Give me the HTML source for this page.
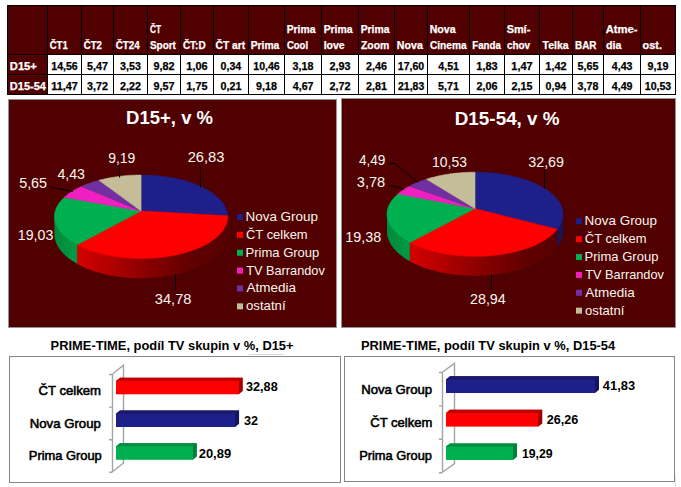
<!DOCTYPE html>
<html><head><meta charset="utf-8"><style>
html,body{margin:0;padding:0;background:#fff;width:681px;height:487px;overflow:hidden}
svg{display:block;font-family:"Liberation Sans", sans-serif}
</style></head><body>
<svg width="681" height="487" viewBox="0 0 681 487">
<rect x="7" y="5" width="668" height="89" fill="#fff"/>
<rect x="7" y="5" width="668" height="49" fill="#500000"/>
<rect x="7" y="54" width="40" height="40" fill="#500000"/>
<path d="M7.5 5V95 M47.5 5V95 M81.5 5V95 M113.5 5V95 M147.5 5V95 M180.5 5V95 M213.5 5V95 M248.5 5V95 M284.5 5V95 M321.5 5V95 M358.5 5V95 M394.5 5V95 M427.5 5V95 M469.5 5V95 M504.5 5V95 M539.5 5V95 M572.5 5V95 M603.5 5V95 M640.5 5V95 M675.5 5V95 M7 5.5H676 M7 54.5H676 M7 74.5H676 M7 94.5H676" stroke="#000" stroke-width="1" fill="none"/>
<rect x="8.5" y="99.5" width="328" height="228" fill="#500000" stroke="#8f9898" stroke-width="1"/>
<rect x="341.5" y="98.5" width="334" height="229" fill="#500000" stroke="#8f9898" stroke-width="1"/>
<defs><linearGradient id="sl1" gradientUnits="userSpaceOnUse" x1="77" y1="0" x2="230" y2="0"><stop offset="0" stop-color="#d60000"/><stop offset="0.45" stop-color="#8a0000"/><stop offset="0.75" stop-color="#600000"/><stop offset="1" stop-color="#560000"/></linearGradient><linearGradient id="sl2" gradientUnits="userSpaceOnUse" x1="54" y1="0" x2="77" y2="0"><stop offset="0" stop-color="#008a3c"/><stop offset="1" stop-color="#009a44"/></linearGradient><linearGradient id="sl0"><stop offset="0" stop-color="#15155a"/></linearGradient><linearGradient id="sr1" gradientUnits="userSpaceOnUse" x1="410" y1="0" x2="565" y2="0"><stop offset="0" stop-color="#d60000"/><stop offset="0.45" stop-color="#8a0000"/><stop offset="0.75" stop-color="#600000"/><stop offset="1" stop-color="#560000"/></linearGradient><linearGradient id="sr2" gradientUnits="userSpaceOnUse" x1="387" y1="0" x2="410" y2="0"><stop offset="0" stop-color="#008a3c"/><stop offset="1" stop-color="#009a44"/></linearGradient><linearGradient id="sr0"><stop offset="0" stop-color="#15155a"/></linearGradient></defs>
<path d="M227.68 216.75 L227.65 217.87 L227.55 218.98 L227.40 220.10 L227.18 221.22 L226.90 222.35 L226.55 223.47 L226.14 224.59 L225.66 225.71 L225.11 226.82 L224.50 227.94 L223.83 229.05 L223.09 230.15 L222.28 231.24 L221.40 232.33 L220.46 233.41 L219.46 234.48 L218.39 235.54 L217.25 236.59 L216.04 237.63 L214.77 238.65 L213.44 239.65 L212.05 240.65 L210.59 241.62 L209.06 242.58 L207.48 243.51 L205.84 244.43 L204.13 245.33 L202.37 246.20 L200.55 247.06 L198.68 247.88 L196.75 248.69 L194.77 249.46 L192.73 250.21 L190.65 250.94 L188.52 251.63 L186.34 252.30 L184.12 252.93 L181.85 253.53 L179.55 254.10 L177.20 254.64 L174.82 255.15 L172.41 255.62 L169.97 256.06 L167.49 256.46 L164.99 256.82 L162.46 257.15 L159.92 257.45 L157.35 257.70 L154.77 257.92 L152.17 258.10 L149.56 258.25 L146.94 258.35 L144.32 258.42 L141.69 258.45 L139.06 258.44 L136.43 258.39 L133.81 258.30 L131.20 258.18 L128.59 258.01 L126.00 257.81 L123.43 257.58 L120.87 257.30 L118.33 256.99 L115.82 256.64 L113.33 256.26 L110.87 255.84 L108.44 255.38 L106.05 254.89 L103.69 254.37 L101.36 253.81 L99.08 253.23 L96.83 252.61 L94.63 251.96 L92.48 251.28 L90.37 250.57 L88.31 249.83 L86.31 249.07 L84.35 248.28 L82.45 247.46 L80.60 246.62 L78.81 245.76 L77.08 244.87 L77.08 263.81 L78.81 264.75 L80.60 265.66 L82.45 266.55 L84.35 267.42 L86.31 268.25 L88.31 269.06 L90.37 269.84 L92.48 270.59 L94.63 271.31 L96.83 271.99 L99.08 272.65 L101.36 273.27 L103.69 273.86 L106.05 274.41 L108.44 274.93 L110.87 275.41 L113.33 275.85 L115.82 276.26 L118.33 276.63 L120.87 276.96 L123.43 277.25 L126.00 277.50 L128.59 277.71 L131.20 277.88 L133.81 278.02 L136.43 278.11 L139.06 278.16 L141.69 278.17 L144.32 278.14 L146.94 278.07 L149.56 277.96 L152.17 277.80 L154.77 277.61 L157.35 277.38 L159.92 277.11 L162.46 276.80 L164.99 276.45 L167.49 276.07 L169.97 275.64 L172.41 275.18 L174.82 274.68 L177.20 274.15 L179.55 273.58 L181.85 272.97 L184.12 272.34 L186.34 271.66 L188.52 270.96 L190.65 270.23 L192.73 269.46 L194.77 268.67 L196.75 267.85 L198.68 267.00 L200.55 266.12 L202.37 265.22 L204.13 264.30 L205.84 263.35 L207.48 262.38 L209.06 261.39 L210.59 260.38 L212.05 259.35 L213.44 258.30 L214.77 257.23 L216.04 256.15 L217.25 255.06 L218.39 253.95 L219.46 252.83 L220.46 251.70 L221.40 250.56 L222.28 249.40 L223.09 248.25 L223.83 247.08 L224.50 245.91 L225.11 244.73 L225.66 243.55 L226.14 242.37 L226.55 241.18 L226.90 240.00 L227.18 238.81 L227.40 237.63 L227.55 236.44 L227.65 235.26 L227.68 234.08Z" fill="url(#sl1)"/><path d="M77.08 244.87 L75.38 243.95 L73.74 243.00 L72.16 242.03 L70.65 241.05 L69.20 240.04 L67.82 239.03 L66.50 237.99 L65.25 236.94 L64.07 235.88 L62.96 234.80 L61.91 233.71 L60.93 232.62 L60.03 231.51 L59.19 230.39 L58.42 229.27 L57.72 228.14 L57.08 227.01 L56.52 225.88 L56.02 224.74 L55.59 223.59 L55.23 222.45 L54.94 221.31 L54.71 220.17 L54.55 219.03 L54.45 217.89 L54.42 216.75 L54.42 234.08 L54.45 235.28 L54.55 236.49 L54.71 237.69 L54.94 238.90 L55.23 240.11 L55.59 241.32 L56.02 242.52 L56.52 243.73 L57.08 244.93 L57.72 246.13 L58.42 247.32 L59.19 248.51 L60.03 249.68 L60.93 250.86 L61.91 252.02 L62.96 253.17 L64.07 254.30 L65.25 255.43 L66.50 256.54 L67.82 257.63 L69.20 258.71 L70.65 259.77 L72.16 260.81 L73.74 261.83 L75.38 262.84 L77.08 263.81Z" fill="url(#sl2)"/><path d="M141.05 211.00 L141.05 175.06 L143.04 175.07 L145.02 175.10 L147.01 175.16 L148.99 175.24 L150.97 175.33 L152.94 175.45 L154.91 175.60 L156.88 175.76 L158.83 175.95 L160.78 176.16 L162.72 176.39 L164.65 176.64 L166.57 176.91 L168.47 177.20 L170.37 177.52 L172.25 177.86 L174.12 178.22 L175.97 178.60 L177.80 179.00 L179.62 179.42 L181.42 179.86 L183.21 180.33 L184.97 180.81 L186.71 181.32 L188.43 181.85 L190.12 182.39 L191.79 182.96 L193.44 183.55 L195.06 184.16 L196.66 184.78 L198.22 185.43 L199.76 186.10 L201.27 186.78 L202.75 187.49 L204.19 188.21 L205.61 188.95 L206.99 189.71 L208.33 190.49 L209.64 191.29 L210.91 192.10 L212.14 192.93 L213.34 193.78 L214.49 194.64 L215.60 195.52 L216.67 196.42 L217.70 197.33 L218.68 198.25 L219.62 199.20 L220.51 200.15 L221.36 201.12 L222.15 202.10 L222.90 203.10 L223.60 204.10 L224.24 205.12 L224.83 206.15 L225.37 207.19 L225.86 208.24 L226.29 209.31 L226.66 210.37 L226.98 211.45 L227.23 212.54 L227.44 213.63 L227.58 214.73 L227.66 215.83Z" fill="#1f1f8a" stroke="#1f1f8a" stroke-width="0.6" stroke-linejoin="round"/><path d="M141.05 211.00 L227.66 215.83 L227.68 216.94 L227.64 218.05 L227.53 219.17 L227.37 220.28 L227.14 221.40 L226.85 222.52 L226.49 223.64 L226.07 224.76 L225.58 225.88 L225.03 226.99 L224.41 228.10 L223.73 229.21 L222.98 230.30 L222.16 231.40 L221.28 232.48 L220.33 233.56 L219.32 234.63 L218.24 235.68 L217.09 236.73 L215.88 237.76 L214.61 238.78 L213.27 239.78 L211.87 240.77 L210.41 241.74 L208.88 242.69 L207.29 243.62 L205.65 244.54 L203.94 245.43 L202.17 246.30 L200.35 247.15 L198.48 247.97 L196.55 248.77 L194.56 249.54 L192.53 250.29 L190.44 251.01 L188.31 251.70 L186.13 252.36 L183.91 252.99 L181.65 253.59 L179.34 254.15 L177.00 254.69 L174.62 255.19 L172.21 255.66 L169.77 256.09 L167.30 256.49 L164.80 256.85 L162.28 257.18 L159.73 257.47 L157.17 257.72 L154.59 257.94 L152.00 258.11 L149.39 258.25 L146.78 258.36 L144.16 258.42 L141.54 258.45 L138.92 258.44 L136.29 258.38 L133.68 258.30 L131.07 258.17 L128.47 258.01 L125.89 257.80 L123.32 257.57 L120.77 257.29 L118.24 256.98 L115.73 256.63 L113.25 256.24 L110.79 255.82 L108.37 255.37 L105.98 254.88 L103.62 254.36 L101.30 253.80 L99.03 253.21 L96.79 252.59 L94.59 251.95 L92.44 251.27 L90.34 250.56 L88.29 249.82 L86.29 249.06 L84.34 248.27 L82.44 247.46 L80.60 246.62 L78.81 245.75 L77.08 244.87Z" fill="#ff0000" stroke="#ff0000" stroke-width="0.6" stroke-linejoin="round"/><path d="M141.05 211.00 L77.08 244.87 L75.40 243.96 L73.77 243.02 L72.21 242.07 L70.71 241.09 L69.28 240.10 L67.91 239.09 L66.60 238.07 L65.36 237.04 L64.19 235.98 L63.08 234.92 L62.04 233.85 L61.06 232.77 L60.16 231.67 L59.32 230.57 L58.54 229.46 L57.84 228.35 L57.20 227.23 L56.63 226.11 L56.12 224.98 L55.69 223.85 L55.31 222.72 L55.01 221.59 L54.76 220.46 L54.59 219.34 L54.47 218.21 L54.42 217.09 L54.44 215.97 L54.51 214.85 L54.65 213.75 L54.84 212.64 L55.10 211.55 L55.41 210.46 L55.79 209.38 L56.22 208.31 L56.70 207.25 L57.24 206.20 L57.84 205.16 L58.49 204.13 L59.19 203.12 L59.94 202.11 L60.74 201.12 L61.59 200.14 L62.49 199.18 L63.44 198.23 L64.43 197.30Z" fill="#00b050" stroke="#00b050" stroke-width="0.6" stroke-linejoin="round"/><path d="M141.05 211.00 L64.43 197.30 L65.50 196.35 L66.61 195.43 L67.77 194.52 L68.98 193.62 L70.22 192.75 L71.51 191.89 L72.84 191.05 L74.21 190.23 L75.61 189.43 L77.05 188.65 L78.53 187.89 L80.05 187.15 L81.60 186.43Z" fill="#f020c0" stroke="#f020c0" stroke-width="0.6" stroke-linejoin="round"/><path d="M141.05 211.00 L81.60 186.43 L83.21 185.72 L84.85 185.02 L86.53 184.35 L88.23 183.71 L89.97 183.08 L91.73 182.48 L93.52 181.90 L95.33 181.34 L97.17 180.80 L99.03 180.29Z" fill="#7030a0" stroke="#7030a0" stroke-width="0.6" stroke-linejoin="round"/><path d="M141.05 211.00 L99.03 180.29 L100.81 179.83 L102.61 179.39 L104.42 178.97 L106.25 178.57 L108.10 178.19 L109.96 177.84 L111.83 177.50 L113.72 177.19 L115.62 176.90 L117.53 176.63 L119.46 176.38 L121.39 176.15 L123.33 175.94 L125.28 175.76 L127.24 175.59 L129.20 175.45 L131.16 175.33 L133.14 175.23 L135.11 175.16 L137.09 175.10 L139.07 175.07 L141.05 175.06Z" fill="#c4bd97" stroke="#c4bd97" stroke-width="0.6" stroke-linejoin="round"/>
<path d="M563.01 214.28 L562.97 215.43 L562.87 216.58 L562.71 217.74 L562.47 218.90 L562.17 220.06 L561.80 221.21 L561.36 222.37 L560.85 223.53 L560.27 224.68 L559.62 225.83 L558.91 226.97 L558.12 228.11 L557.26 229.23 L557.26 247.17 L558.12 245.98 L558.91 244.78 L559.62 243.57 L560.27 242.36 L560.85 241.15 L561.36 239.93 L561.80 238.71 L562.17 237.49 L562.47 236.26 L562.71 235.04 L562.87 233.82 L562.97 232.60 L563.01 231.39Z" fill="url(#sr0)"/><path d="M557.26 229.23 L556.35 230.33 L555.37 231.41 L554.33 232.49 L553.23 233.55 L552.05 234.60 L550.81 235.64 L549.51 236.67 L548.14 237.68 L546.70 238.67 L545.20 239.65 L543.64 240.60 L542.02 241.54 L540.34 242.46 L538.60 243.36 L536.80 244.23 L534.94 245.08 L533.02 245.91 L531.05 246.71 L529.03 247.48 L526.96 248.23 L524.83 248.95 L522.66 249.64 L520.44 250.30 L518.18 250.93 L515.88 251.53 L513.53 252.10 L511.15 252.63 L508.73 253.13 L506.28 253.60 L503.79 254.03 L501.28 254.43 L498.74 254.79 L496.18 255.11 L493.59 255.40 L490.99 255.65 L488.37 255.86 L485.74 256.03 L483.09 256.17 L480.44 256.27 L477.78 256.32 L475.12 256.35 L472.46 256.33 L469.80 256.27 L467.15 256.18 L464.50 256.05 L461.87 255.87 L459.24 255.67 L456.64 255.42 L454.05 255.14 L451.49 254.82 L448.95 254.46 L446.43 254.07 L443.94 253.64 L441.49 253.18 L439.07 252.68 L436.68 252.15 L434.33 251.58 L432.02 250.99 L429.76 250.36 L427.54 249.70 L425.36 249.01 L423.23 248.30 L421.15 247.55 L419.13 246.78 L417.15 245.98 L415.23 245.16 L413.37 244.31 L411.56 243.44 L409.81 242.54 L409.81 261.20 L411.56 262.15 L413.37 263.07 L415.23 263.96 L417.15 264.83 L419.13 265.68 L421.15 266.49 L423.23 267.28 L425.36 268.03 L427.54 268.76 L429.76 269.45 L432.02 270.12 L434.33 270.75 L436.68 271.34 L439.07 271.90 L441.49 272.42 L443.94 272.91 L446.43 273.36 L448.95 273.78 L451.49 274.15 L454.05 274.49 L456.64 274.79 L459.24 275.05 L461.87 275.27 L464.50 275.45 L467.15 275.59 L469.80 275.69 L472.46 275.75 L475.12 275.77 L477.78 275.75 L480.44 275.68 L483.09 275.58 L485.74 275.44 L488.37 275.25 L490.99 275.03 L493.59 274.77 L496.18 274.46 L498.74 274.12 L501.28 273.74 L503.79 273.33 L506.28 272.87 L508.73 272.38 L511.15 271.85 L513.53 271.29 L515.88 270.69 L518.18 270.06 L520.44 269.39 L522.66 268.70 L524.83 267.97 L526.96 267.21 L529.03 266.42 L531.05 265.60 L533.02 264.76 L534.94 263.89 L536.80 262.99 L538.60 262.07 L540.34 261.12 L542.02 260.15 L543.64 259.16 L545.20 258.15 L546.70 257.12 L548.14 256.07 L549.51 255.01 L550.81 253.93 L552.05 252.83 L553.23 251.72 L554.33 250.60 L555.37 249.47 L556.35 248.32 L557.26 247.17Z" fill="url(#sr1)"/><path d="M409.81 242.54 L408.10 241.61 L406.45 240.66 L404.86 239.69 L403.34 238.70 L401.88 237.69 L400.49 236.66 L399.16 235.62 L397.90 234.57 L396.71 233.50 L395.59 232.42 L394.54 231.32 L393.56 230.22 L392.64 229.11 L391.80 227.99 L391.02 226.86 L390.32 225.73 L389.68 224.59 L389.11 223.45 L388.61 222.30 L388.18 221.15 L387.81 220.01 L387.52 218.86 L387.29 217.71 L387.12 216.56 L387.03 215.42 L386.99 214.28 L386.99 231.39 L387.03 232.59 L387.12 233.80 L387.29 235.01 L387.52 236.22 L387.81 237.43 L388.18 238.64 L388.61 239.85 L389.11 241.06 L389.68 242.27 L390.32 243.47 L391.02 244.66 L391.80 245.85 L392.64 247.03 L393.56 248.21 L394.54 249.37 L395.59 250.52 L396.71 251.66 L397.90 252.79 L399.16 253.91 L400.49 255.00 L401.88 256.08 L403.34 257.15 L404.86 258.19 L406.45 259.22 L408.10 260.22 L409.81 261.20Z" fill="url(#sr2)"/><path d="M475.00 208.60 L475.00 172.21 L477.03 172.22 L479.05 172.26 L481.08 172.31 L483.10 172.39 L485.12 172.49 L487.13 172.61 L489.14 172.76 L491.14 172.93 L493.13 173.11 L495.12 173.33 L497.09 173.56 L499.06 173.82 L501.02 174.09 L502.96 174.39 L504.89 174.71 L506.81 175.06 L508.71 175.42 L510.60 175.81 L512.47 176.22 L514.32 176.64 L516.15 177.10 L517.97 177.57 L519.76 178.06 L521.53 178.57 L523.28 179.11 L525.01 179.66 L526.71 180.24 L528.39 180.84 L530.04 181.45 L531.66 182.09 L533.25 182.75 L534.82 183.42 L536.35 184.12 L537.85 184.83 L539.32 185.57 L540.75 186.32 L542.15 187.09 L543.52 187.88 L544.85 188.69 L546.14 189.51 L547.39 190.35 L548.60 191.21 L549.76 192.09 L550.89 192.98 L551.98 193.89 L553.01 194.81 L554.01 195.75 L554.96 196.70 L555.86 197.67 L556.71 198.65 L557.51 199.65 L558.26 200.65 L558.96 201.67 L559.61 202.70 L560.20 203.75 L560.74 204.80 L561.23 205.86 L561.65 206.93 L562.02 208.01 L562.34 209.10 L562.59 210.20 L562.79 211.30 L562.92 212.41 L562.99 213.53 L563.00 214.65 L562.95 215.77 L562.83 216.90 L562.66 218.03 L562.41 219.16 L562.10 220.29 L561.73 221.42 L561.29 222.54 L560.78 223.67 L560.21 224.79 L559.57 225.91 L558.87 227.03 L558.10 228.13 L557.26 229.23Z" fill="#1f1f8a" stroke="#1f1f8a" stroke-width="0.6" stroke-linejoin="round"/><path d="M475.00 208.60 L557.26 229.23 L556.35 230.33 L555.37 231.41 L554.33 232.49 L553.23 233.55 L552.05 234.60 L550.81 235.64 L549.51 236.67 L548.14 237.68 L546.70 238.67 L545.20 239.65 L543.64 240.60 L542.02 241.54 L540.34 242.46 L538.60 243.36 L536.80 244.23 L534.94 245.08 L533.02 245.91 L531.05 246.71 L529.03 247.48 L526.96 248.23 L524.83 248.95 L522.66 249.64 L520.44 250.30 L518.18 250.93 L515.88 251.53 L513.53 252.10 L511.15 252.63 L508.73 253.13 L506.28 253.60 L503.79 254.03 L501.28 254.43 L498.74 254.79 L496.18 255.11 L493.59 255.40 L490.99 255.65 L488.37 255.86 L485.74 256.03 L483.09 256.17 L480.44 256.27 L477.78 256.32 L475.12 256.35 L472.46 256.33 L469.80 256.27 L467.15 256.18 L464.50 256.05 L461.87 255.87 L459.24 255.67 L456.64 255.42 L454.05 255.14 L451.49 254.82 L448.95 254.46 L446.43 254.07 L443.94 253.64 L441.49 253.18 L439.07 252.68 L436.68 252.15 L434.33 251.58 L432.02 250.99 L429.76 250.36 L427.54 249.70 L425.36 249.01 L423.23 248.30 L421.15 247.55 L419.13 246.78 L417.15 245.98 L415.23 245.16 L413.37 244.31 L411.56 243.44 L409.81 242.54Z" fill="#ff0000" stroke="#ff0000" stroke-width="0.6" stroke-linejoin="round"/><path d="M475.00 208.60 L409.81 242.54 L408.12 241.62 L406.48 240.68 L404.91 239.72 L403.40 238.74 L401.96 237.74 L400.58 236.73 L399.26 235.70 L398.01 234.66 L396.83 233.60 L395.71 232.54 L394.67 231.46 L393.68 230.37 L392.77 229.27 L391.93 228.16 L391.15 227.05 L390.44 225.93 L389.79 224.80 L389.22 223.68 L388.71 222.54 L388.27 221.41 L387.89 220.27 L387.58 219.14 L387.34 218.00 L387.16 216.87 L387.05 215.74 L387.00 214.61 L387.01 213.48 L387.09 212.36 L387.22 211.25 L387.42 210.14 L387.68 209.03 L388.00 207.94 L388.38 206.85 L388.81 205.78 L389.30 204.71 L389.85 203.65 L390.45 202.60 L391.11 201.57 L391.82 200.55 L392.58 199.53 L393.39 198.54 L394.25 197.55 L395.16 196.58 L396.12 195.63 L397.13 194.68 L398.18 193.76Z" fill="#00b050" stroke="#00b050" stroke-width="0.6" stroke-linejoin="round"/><path d="M475.00 208.60 L398.18 193.76 L399.27 192.85 L400.40 191.96 L401.58 191.08 L402.80 190.23 L404.06 189.38 L405.36 188.56 L406.69 187.75 L408.07 186.97 L409.48 186.20Z" fill="#f020c0" stroke="#f020c0" stroke-width="0.6" stroke-linejoin="round"/><path d="M475.00 208.60 L409.48 186.20 L411.02 185.39 L412.60 184.61 L414.22 183.86 L415.88 183.12 L417.57 182.40 L419.29 181.71 L421.05 181.04 L422.84 180.40 L424.65 179.78 L426.50 179.18Z" fill="#7030a0" stroke="#7030a0" stroke-width="0.6" stroke-linejoin="round"/><path d="M475.00 208.60 L426.50 179.18 L428.25 178.64 L430.03 178.12 L431.83 177.62 L433.65 177.14 L435.50 176.69 L437.36 176.26 L439.23 175.84 L441.13 175.45 L443.04 175.08 L444.96 174.74 L446.90 174.41 L448.86 174.11 L450.82 173.83 L452.80 173.57 L454.78 173.34 L456.78 173.12 L458.78 172.93 L460.79 172.76 L462.81 172.62 L464.83 172.49 L466.86 172.39 L468.89 172.31 L470.93 172.26 L472.96 172.22 L475.00 172.21Z" fill="#c4bd97" stroke="#c4bd97" stroke-width="0.6" stroke-linejoin="round"/>
<path d="M200.5 166V187 M119.5 165V177.5 M50 187.3L72.7 191.4 M175.5 274V290.6 M544.5 169.6V188.7 M388.7 163L394.9 163.6L417.5 182.1 M388.7 185.6L394.9 186.3L403.7 189.3 M491.5 274.2V289.3" stroke="#000" stroke-width="1" fill="none"/>
<rect x="237" y="214.00" width="6" height="6" fill="#1f1f8a"/>
<rect x="237" y="231.87" width="6" height="6" fill="#ff0000"/>
<rect x="237" y="249.74" width="6" height="6" fill="#00b050"/>
<rect x="237" y="267.61" width="6" height="6" fill="#f020c0"/>
<rect x="237" y="285.48" width="6" height="6" fill="#7030a0"/>
<rect x="237" y="303.35" width="6" height="6" fill="#c4bd97"/>
<rect x="576" y="218.30" width="6" height="6" fill="#1f1f8a"/>
<rect x="576" y="236.17" width="6" height="6" fill="#ff0000"/>
<rect x="576" y="254.04" width="6" height="6" fill="#00b050"/>
<rect x="576" y="271.91" width="6" height="6" fill="#f020c0"/>
<rect x="576" y="289.78" width="6" height="6" fill="#7030a0"/>
<rect x="576" y="307.65" width="6" height="6" fill="#c4bd97"/>
<rect x="9.5" y="356.5" width="331" height="126" fill="#fff" stroke="#868686" stroke-width="1"/>
<rect x="344.5" y="356.5" width="330" height="125" fill="#fff" stroke="#868686" stroke-width="1"/>
<rect x="249" y="354" width="35" height="1" fill="#dadada"/><rect x="675" y="475" width="1" height="12" fill="#e4e4e4"/>
<path d="M112.5 374V471.8 M112.5 374L123.5 365.2V463.0L112.5 471.8 M109 374.5H112.5 M109 407.1H112.5 M109 439.7H112.5 M109 472.3H112.5" stroke="#a4a4a4" stroke-width="1.4" fill="none"/>
<path d="M442.5 372V472.2 M442.5 372L454.5 363.4V463.59999999999997L442.5 472.2 M439 372.5H442.5 M439 405.9H442.5 M439 439.3H442.5 M439 472.7H442.5" stroke="#a4a4a4" stroke-width="1.4" fill="none"/>
<path d="M116 381.59999999999997V380.9L120 377.7H242.8V391.1L238.8 394.3H238.10000000000002V381.59999999999997Z" fill="#a00000"/><path d="M116 381.59999999999997V380.9L120 377.7H242.8L238.8 380.9V381.59999999999997Z" fill="#c00000"/><rect x="116" y="380.9" width="122.80000000000001" height="13.400000000000034" fill="#ff0000"/>
<path d="M116 414.4V413.7L120 410.5H239.1V423.8L235.1 427.0H234.4V414.4Z" fill="#141460"/><path d="M116 414.4V413.7L120 410.5H239.1L235.1 413.7V414.4Z" fill="#19196c"/><rect x="116" y="413.7" width="119.1" height="13.300000000000011" fill="#1f1f8a"/>
<path d="M116 447.09999999999997V446.4L120 443.2H196.9V456.6L192.9 459.8H192.20000000000002V447.09999999999997Z" fill="#00803a"/><path d="M116 447.09999999999997V446.4L120 443.2H196.9L192.9 446.4V447.09999999999997Z" fill="#009040"/><rect x="116" y="446.4" width="76.9" height="13.400000000000034" fill="#00b050"/>
<path d="M446 380.2V379.5L450 376.3H599V389.8L595 393.0H594.3V380.2Z" fill="#141460"/><path d="M446 380.2V379.5L450 376.3H599L595 379.5V380.2Z" fill="#19196c"/><rect x="446" y="379.5" width="149" height="13.5" fill="#1f1f8a"/>
<path d="M446 413.7V413.0L450 409.8H542.3V423.40000000000003L538.3 426.6H537.5999999999999V413.7Z" fill="#a00000"/><path d="M446 413.7V413.0L450 409.8H542.3L538.3 413.0V413.7Z" fill="#c00000"/><rect x="446" y="413.0" width="92.29999999999995" height="13.600000000000023" fill="#ff0000"/>
<path d="M446 447.3V446.6L450 443.40000000000003H517V456.8L513 460.0H512.3V447.3Z" fill="#00803a"/><path d="M446 447.3V446.6L450 443.40000000000003H517L513 446.6V447.3Z" fill="#009040"/><rect x="446" y="446.6" width="67" height="13.399999999999977" fill="#00b050"/>
<g id="texts" font-family="&quot;Liberation Sans&quot;, sans-serif"><text id="t0" x="49.70" y="48.70" font-size="11.2" font-weight="bold" fill="#fff" stroke="#fff" stroke-width="0.25" textLength="17.99" lengthAdjust="spacingAndGlyphs">ČT1</text><text id="t1" x="83.75" y="48.70" font-size="11.2" font-weight="bold" fill="#fff" stroke="#fff" stroke-width="0.25" textLength="18.12" lengthAdjust="spacingAndGlyphs">ČT2</text><text id="t2" x="115.75" y="48.70" font-size="11.2" font-weight="bold" fill="#fff" stroke="#fff" stroke-width="0.25" textLength="24.03" lengthAdjust="spacingAndGlyphs">ČT24</text><text id="t3" x="149.90" y="32.70" font-size="11.2" font-weight="bold" fill="#fff" stroke="#fff" stroke-width="0.25" textLength="11.12" lengthAdjust="spacingAndGlyphs">ČT</text><text id="t4" x="149.90" y="48.70" font-size="11.2" font-weight="bold" fill="#fff" stroke="#fff" stroke-width="0.25" textLength="26.05" lengthAdjust="spacingAndGlyphs">Sport</text><text id="t5" x="182.90" y="48.70" font-size="11.2" font-weight="bold" fill="#fff" stroke="#fff" stroke-width="0.25" textLength="22.79" lengthAdjust="spacingAndGlyphs">ČT:D</text><text id="t6" x="215.55" y="48.70" font-size="11.2" font-weight="bold" fill="#fff" stroke="#fff" stroke-width="0.25" textLength="29.55" lengthAdjust="spacingAndGlyphs">ČT art</text><text id="t7" x="250.70" y="48.70" font-size="11.2" font-weight="bold" fill="#fff" stroke="#fff" stroke-width="0.25" textLength="28.63" lengthAdjust="spacingAndGlyphs">Prima</text><text id="t8" x="286.65" y="32.70" font-size="11.2" font-weight="bold" fill="#fff" stroke="#fff" stroke-width="0.25" textLength="28.88" lengthAdjust="spacingAndGlyphs">Prima</text><text id="t9" x="286.90" y="48.70" font-size="11.2" font-weight="bold" fill="#fff" stroke="#fff" stroke-width="0.25" textLength="21.22" lengthAdjust="spacingAndGlyphs">Cool</text><text id="t10" x="323.65" y="32.70" font-size="11.2" font-weight="bold" fill="#fff" stroke="#fff" stroke-width="0.25" textLength="28.88" lengthAdjust="spacingAndGlyphs">Prima</text><text id="t11" x="323.65" y="48.70" font-size="11.2" font-weight="bold" fill="#fff" stroke="#fff" stroke-width="0.25" textLength="21.04" lengthAdjust="spacingAndGlyphs">love</text><text id="t12" x="360.65" y="32.70" font-size="11.2" font-weight="bold" fill="#fff" stroke="#fff" stroke-width="0.25" textLength="28.88" lengthAdjust="spacingAndGlyphs">Prima</text><text id="t13" x="360.90" y="48.70" font-size="11.2" font-weight="bold" fill="#fff" stroke="#fff" stroke-width="0.25" textLength="28.42" lengthAdjust="spacingAndGlyphs">Zoom</text><text id="t14" x="396.85" y="48.70" font-size="11.2" font-weight="bold" fill="#fff" stroke="#fff" stroke-width="0.25" textLength="25.98" lengthAdjust="spacingAndGlyphs">Nova</text><text id="t15" x="429.65" y="32.70" font-size="11.2" font-weight="bold" fill="#fff" stroke="#fff" stroke-width="0.25" textLength="26.01" lengthAdjust="spacingAndGlyphs">Nova</text><text id="t16" x="429.90" y="48.70" font-size="11.2" font-weight="bold" fill="#fff" stroke="#fff" stroke-width="0.25" textLength="36.66" lengthAdjust="spacingAndGlyphs">Cinema</text><text id="t17" x="472.20" y="48.70" font-size="11.2" font-weight="bold" fill="#fff" stroke="#fff" stroke-width="0.25" textLength="28.64" lengthAdjust="spacingAndGlyphs">Fanda</text><text id="t18" x="506.65" y="32.70" font-size="11.2" font-weight="bold" fill="#fff" stroke="#fff" stroke-width="0.25" textLength="23.62" lengthAdjust="spacingAndGlyphs">Smí-</text><text id="t19" x="506.90" y="48.70" font-size="11.2" font-weight="bold" fill="#fff" stroke="#fff" stroke-width="0.25" textLength="23.25" lengthAdjust="spacingAndGlyphs">chov</text><text id="t20" x="542.50" y="48.70" font-size="11.2" font-weight="bold" fill="#fff" stroke="#fff" stroke-width="0.25" textLength="26.12" lengthAdjust="spacingAndGlyphs">Telka</text><text id="t21" x="575.00" y="48.70" font-size="11.2" font-weight="bold" fill="#fff" stroke="#fff" stroke-width="0.25" textLength="21.45" lengthAdjust="spacingAndGlyphs">BAR</text><text id="t22" x="605.65" y="32.70" font-size="11.2" font-weight="bold" fill="#fff" stroke="#fff" stroke-width="0.25" textLength="31.90" lengthAdjust="spacingAndGlyphs">Atme-</text><text id="t23" x="605.90" y="48.70" font-size="11.2" font-weight="bold" fill="#fff" stroke="#fff" stroke-width="0.25" textLength="15.43" lengthAdjust="spacingAndGlyphs">dia</text><text id="t24" x="642.55" y="48.70" font-size="11.2" font-weight="bold" fill="#fff" stroke="#fff" stroke-width="0.25" textLength="19.45" lengthAdjust="spacingAndGlyphs">ost.</text><text id="t25" x="51.25" y="70.20" font-size="11.2" font-weight="bold" fill="#000" stroke="#000" stroke-width="0.25" textLength="26.49" lengthAdjust="spacingAndGlyphs">14,56</text><text id="t26" x="51.25" y="90.10" font-size="11.2" font-weight="bold" fill="#000" stroke="#000" stroke-width="0.25" textLength="26.58" lengthAdjust="spacingAndGlyphs">11,47</text><text id="t27" x="87.10" y="70.20" font-size="11.2" font-weight="bold" fill="#000" stroke="#000" stroke-width="0.25" textLength="20.97" lengthAdjust="spacingAndGlyphs">5,47</text><text id="t28" x="87.10" y="90.10" font-size="11.2" font-weight="bold" fill="#000" stroke="#000" stroke-width="0.25" textLength="20.97" lengthAdjust="spacingAndGlyphs">3,72</text><text id="t29" x="120.10" y="70.20" font-size="11.2" font-weight="bold" fill="#000" stroke="#000" stroke-width="0.25" textLength="20.92" lengthAdjust="spacingAndGlyphs">3,53</text><text id="t30" x="120.10" y="90.10" font-size="11.2" font-weight="bold" fill="#000" stroke="#000" stroke-width="0.25" textLength="20.97" lengthAdjust="spacingAndGlyphs">2,22</text><text id="t31" x="153.60" y="70.20" font-size="11.2" font-weight="bold" fill="#000" stroke="#000" stroke-width="0.25" textLength="21.04" lengthAdjust="spacingAndGlyphs">9,82</text><text id="t32" x="153.60" y="90.10" font-size="11.2" font-weight="bold" fill="#000" stroke="#000" stroke-width="0.25" textLength="21.04" lengthAdjust="spacingAndGlyphs">9,57</text><text id="t33" x="186.35" y="70.20" font-size="11.2" font-weight="bold" fill="#000" stroke="#000" stroke-width="0.25" textLength="21.28" lengthAdjust="spacingAndGlyphs">1,06</text><text id="t34" x="186.35" y="90.10" font-size="11.2" font-weight="bold" fill="#000" stroke="#000" stroke-width="0.25" textLength="21.09" lengthAdjust="spacingAndGlyphs">1,75</text><text id="t35" x="220.60" y="70.20" font-size="11.2" font-weight="bold" fill="#000" stroke="#000" stroke-width="0.25" textLength="20.61" lengthAdjust="spacingAndGlyphs">0,34</text><text id="t36" x="220.60" y="90.10" font-size="11.2" font-weight="bold" fill="#000" stroke="#000" stroke-width="0.25" textLength="20.88" lengthAdjust="spacingAndGlyphs">0,21</text><text id="t37" x="253.25" y="70.20" font-size="11.2" font-weight="bold" fill="#000" stroke="#000" stroke-width="0.25" textLength="26.49" lengthAdjust="spacingAndGlyphs">10,46</text><text id="t38" x="256.10" y="90.10" font-size="11.2" font-weight="bold" fill="#000" stroke="#000" stroke-width="0.25" textLength="20.92" lengthAdjust="spacingAndGlyphs">9,18</text><text id="t39" x="292.60" y="70.20" font-size="11.2" font-weight="bold" fill="#000" stroke="#000" stroke-width="0.25" textLength="20.88" lengthAdjust="spacingAndGlyphs">3,18</text><text id="t40" x="292.85" y="90.10" font-size="11.2" font-weight="bold" fill="#000" stroke="#000" stroke-width="0.25" textLength="20.67" lengthAdjust="spacingAndGlyphs">4,67</text><text id="t41" x="329.60" y="70.20" font-size="11.2" font-weight="bold" fill="#000" stroke="#000" stroke-width="0.25" textLength="21.04" lengthAdjust="spacingAndGlyphs">2,93</text><text id="t42" x="329.60" y="90.10" font-size="11.2" font-weight="bold" fill="#000" stroke="#000" stroke-width="0.25" textLength="21.04" lengthAdjust="spacingAndGlyphs">2,72</text><text id="t43" x="366.10" y="70.20" font-size="11.2" font-weight="bold" fill="#000" stroke="#000" stroke-width="0.25" textLength="20.97" lengthAdjust="spacingAndGlyphs">2,46</text><text id="t44" x="366.10" y="90.10" font-size="11.2" font-weight="bold" fill="#000" stroke="#000" stroke-width="0.25" textLength="20.92" lengthAdjust="spacingAndGlyphs">2,81</text><text id="t45" x="397.75" y="70.20" font-size="11.2" font-weight="bold" fill="#000" stroke="#000" stroke-width="0.25" textLength="26.46" lengthAdjust="spacingAndGlyphs">17,60</text><text id="t46" x="398.00" y="90.10" font-size="11.2" font-weight="bold" fill="#000" stroke="#000" stroke-width="0.25" textLength="26.23" lengthAdjust="spacingAndGlyphs">21,83</text><text id="t47" x="438.35" y="70.20" font-size="11.2" font-weight="bold" fill="#000" stroke="#000" stroke-width="0.25" textLength="20.65" lengthAdjust="spacingAndGlyphs">4,51</text><text id="t48" x="438.10" y="90.10" font-size="11.2" font-weight="bold" fill="#000" stroke="#000" stroke-width="0.25" textLength="20.92" lengthAdjust="spacingAndGlyphs">5,71</text><text id="t49" x="476.35" y="70.20" font-size="11.2" font-weight="bold" fill="#000" stroke="#000" stroke-width="0.25" textLength="21.36" lengthAdjust="spacingAndGlyphs">1,83</text><text id="t50" x="476.60" y="90.10" font-size="11.2" font-weight="bold" fill="#000" stroke="#000" stroke-width="0.25" textLength="21.04" lengthAdjust="spacingAndGlyphs">2,06</text><text id="t51" x="511.35" y="70.20" font-size="11.2" font-weight="bold" fill="#000" stroke="#000" stroke-width="0.25" textLength="21.28" lengthAdjust="spacingAndGlyphs">1,47</text><text id="t52" x="511.60" y="90.10" font-size="11.2" font-weight="bold" fill="#000" stroke="#000" stroke-width="0.25" textLength="20.88" lengthAdjust="spacingAndGlyphs">2,15</text><text id="t53" x="545.35" y="70.20" font-size="11.2" font-weight="bold" fill="#000" stroke="#000" stroke-width="0.25" textLength="21.28" lengthAdjust="spacingAndGlyphs">1,42</text><text id="t54" x="545.60" y="90.10" font-size="11.2" font-weight="bold" fill="#000" stroke="#000" stroke-width="0.25" textLength="20.61" lengthAdjust="spacingAndGlyphs">0,94</text><text id="t55" x="577.60" y="70.20" font-size="11.2" font-weight="bold" fill="#000" stroke="#000" stroke-width="0.25" textLength="20.88" lengthAdjust="spacingAndGlyphs">5,65</text><text id="t56" x="577.60" y="90.10" font-size="11.2" font-weight="bold" fill="#000" stroke="#000" stroke-width="0.25" textLength="20.88" lengthAdjust="spacingAndGlyphs">3,78</text><text id="t57" x="611.85" y="70.20" font-size="11.2" font-weight="bold" fill="#000" stroke="#000" stroke-width="0.25" textLength="20.65" lengthAdjust="spacingAndGlyphs">4,43</text><text id="t58" x="611.85" y="90.10" font-size="11.2" font-weight="bold" fill="#000" stroke="#000" stroke-width="0.25" textLength="20.65" lengthAdjust="spacingAndGlyphs">4,49</text><text id="t59" x="647.60" y="70.20" font-size="11.2" font-weight="bold" fill="#000" stroke="#000" stroke-width="0.25" textLength="20.88" lengthAdjust="spacingAndGlyphs">9,19</text><text id="t60" x="644.75" y="90.10" font-size="11.2" font-weight="bold" fill="#000" stroke="#000" stroke-width="0.25" textLength="26.44" lengthAdjust="spacingAndGlyphs">10,53</text><text id="t61" x="9.85" y="70.20" font-size="11.2" font-weight="bold" fill="#fff" stroke="#fff" stroke-width="0.25" textLength="27.02" lengthAdjust="spacingAndGlyphs">D15+</text><text id="t62" x="9.85" y="90.10" font-size="11.2" font-weight="bold" fill="#fff" stroke="#fff" stroke-width="0.25" textLength="36.15" lengthAdjust="spacingAndGlyphs">D15-54</text><text id="t63" x="126.10" y="123.60" font-size="19.0" font-weight="bold" fill="#fff" textLength="86.92" lengthAdjust="spacingAndGlyphs">D15+, v %</text><text id="t64" x="454.75" y="124.70" font-size="19.0" font-weight="bold" fill="#fff" textLength="104.87" lengthAdjust="spacingAndGlyphs">D15-54, v %</text><text id="t65" x="187.65" y="162.20" font-size="14.0" font-weight="normal" fill="#f8f6ee" textLength="36.82" lengthAdjust="spacingAndGlyphs">26,83</text><text id="t66" x="108.15" y="162.60" font-size="14.0" font-weight="normal" fill="#f8f6ee" textLength="27.21" lengthAdjust="spacingAndGlyphs">9,19</text><text id="t67" x="57.40" y="178.70" font-size="14.0" font-weight="normal" fill="#f8f6ee" textLength="27.56" lengthAdjust="spacingAndGlyphs">4,43</text><text id="t68" x="19.15" y="187.70" font-size="14.0" font-weight="normal" fill="#f8f6ee" textLength="27.96" lengthAdjust="spacingAndGlyphs">5,65</text><text id="t69" x="17.85" y="239.70" font-size="14.0" font-weight="normal" fill="#f8f6ee" textLength="35.51" lengthAdjust="spacingAndGlyphs">19,03</text><text id="t70" x="154.85" y="304.10" font-size="14.0" font-weight="normal" fill="#f8f6ee" textLength="36.58" lengthAdjust="spacingAndGlyphs">34,78</text><text id="t71" x="528.20" y="166.50" font-size="14.0" font-weight="normal" fill="#f8f6ee" textLength="35.89" lengthAdjust="spacingAndGlyphs">32,69</text><text id="t72" x="432.05" y="166.70" font-size="14.0" font-weight="normal" fill="#f8f6ee" textLength="34.83" lengthAdjust="spacingAndGlyphs">10,53</text><text id="t73" x="358.95" y="165.10" font-size="14.0" font-weight="normal" fill="#f8f6ee" textLength="26.50" lengthAdjust="spacingAndGlyphs">4,49</text><text id="t74" x="356.80" y="187.30" font-size="14.0" font-weight="normal" fill="#f8f6ee" textLength="28.45" lengthAdjust="spacingAndGlyphs">3,78</text><text id="t75" x="345.35" y="241.70" font-size="14.0" font-weight="normal" fill="#f8f6ee" textLength="36.03" lengthAdjust="spacingAndGlyphs">19,38</text><text id="t76" x="470.00" y="304.00" font-size="14.0" font-weight="normal" fill="#f8f6ee" textLength="35.79" lengthAdjust="spacingAndGlyphs">28,94</text><text id="t77" x="245.50" y="220.90" font-size="12.6" font-weight="normal" fill="#f8f6ee" textLength="72.46" lengthAdjust="spacingAndGlyphs">Nova Group</text><text id="t78" x="246.00" y="238.77" font-size="12.6" font-weight="normal" fill="#f8f6ee" textLength="61.65" lengthAdjust="spacingAndGlyphs">ČT celkem</text><text id="t79" x="245.50" y="256.64" font-size="12.6" font-weight="normal" fill="#f8f6ee" textLength="73.85" lengthAdjust="spacingAndGlyphs">Prima Group</text><text id="t80" x="246.25" y="274.51" font-size="12.6" font-weight="normal" fill="#f8f6ee" textLength="78.53" lengthAdjust="spacingAndGlyphs">TV Barrandov</text><text id="t81" x="246.50" y="292.38" font-size="12.6" font-weight="normal" fill="#f8f6ee" textLength="49.52" lengthAdjust="spacingAndGlyphs">Atmedia</text><text id="t82" x="246.00" y="310.25" font-size="12.6" font-weight="normal" fill="#f8f6ee" textLength="39.62" lengthAdjust="spacingAndGlyphs">ostatní</text><text id="t83" x="584.55" y="225.20" font-size="12.6" font-weight="normal" fill="#f8f6ee" textLength="72.50" lengthAdjust="spacingAndGlyphs">Nova Group</text><text id="t84" x="584.80" y="243.07" font-size="12.6" font-weight="normal" fill="#f8f6ee" textLength="61.66" lengthAdjust="spacingAndGlyphs">ČT celkem</text><text id="t85" x="584.55" y="260.94" font-size="12.6" font-weight="normal" fill="#f8f6ee" textLength="73.84" lengthAdjust="spacingAndGlyphs">Prima Group</text><text id="t86" x="585.30" y="278.81" font-size="12.6" font-weight="normal" fill="#f8f6ee" textLength="78.53" lengthAdjust="spacingAndGlyphs">TV Barrandov</text><text id="t87" x="585.30" y="296.68" font-size="12.6" font-weight="normal" fill="#f8f6ee" textLength="49.52" lengthAdjust="spacingAndGlyphs">Atmedia</text><text id="t88" x="585.05" y="314.55" font-size="12.6" font-weight="normal" fill="#f8f6ee" textLength="39.34" lengthAdjust="spacingAndGlyphs">ostatní</text><text id="t89" x="50.60" y="350.00" font-size="13.0" font-weight="bold" fill="#000" textLength="242.96" lengthAdjust="spacingAndGlyphs">PRIME-TIME, podíl TV skupin v %, D15+</text><text id="t90" x="360.90" y="349.70" font-size="13.0" font-weight="bold" fill="#000" textLength="254.30" lengthAdjust="spacingAndGlyphs">PRIME-TIME, podíl TV skupin v %, D15-54</text><text id="t91" x="38.55" y="394.80" font-size="12.4" font-weight="normal" fill="#000" stroke="#000" stroke-width="0.55" textLength="62.48" lengthAdjust="spacingAndGlyphs">ČT celkem</text><text id="t92" x="29.75" y="427.70" font-size="12.4" font-weight="normal" fill="#000" stroke="#000" stroke-width="0.55" textLength="71.14" lengthAdjust="spacingAndGlyphs">Nova Group</text><text id="t93" x="28.80" y="459.50" font-size="12.4" font-weight="normal" fill="#000" stroke="#000" stroke-width="0.55" textLength="72.97" lengthAdjust="spacingAndGlyphs">Prima Group</text><text id="t94" x="361.15" y="394.20" font-size="12.4" font-weight="normal" fill="#000" stroke="#000" stroke-width="0.55" textLength="70.96" lengthAdjust="spacingAndGlyphs">Nova Group</text><text id="t95" x="370.25" y="426.90" font-size="12.4" font-weight="normal" fill="#000" stroke="#000" stroke-width="0.55" textLength="62.07" lengthAdjust="spacingAndGlyphs">ČT celkem</text><text id="t96" x="359.15" y="460.40" font-size="12.4" font-weight="normal" fill="#000" stroke="#000" stroke-width="0.55" textLength="72.89" lengthAdjust="spacingAndGlyphs">Prima Group</text><text id="t97" x="246.05" y="390.60" font-size="12.0" font-weight="bold" fill="#000" textLength="31.63" lengthAdjust="spacingAndGlyphs">32,88</text><text id="t98" x="243.90" y="424.70" font-size="12.0" font-weight="bold" fill="#000" textLength="14.07" lengthAdjust="spacingAndGlyphs">32</text><text id="t99" x="198.70" y="457.60" font-size="12.0" font-weight="bold" fill="#000" textLength="32.45" lengthAdjust="spacingAndGlyphs">20,89</text><text id="t100" x="602.80" y="389.70" font-size="12.0" font-weight="bold" fill="#000" textLength="32.30" lengthAdjust="spacingAndGlyphs">41,83</text><text id="t101" x="546.70" y="423.80" font-size="12.0" font-weight="bold" fill="#000" textLength="31.46" lengthAdjust="spacingAndGlyphs">26,26</text><text id="t102" x="521.95" y="457.60" font-size="12.0" font-weight="bold" fill="#000" textLength="30.72" lengthAdjust="spacingAndGlyphs">19,29</text></g>
</svg></body></html>
